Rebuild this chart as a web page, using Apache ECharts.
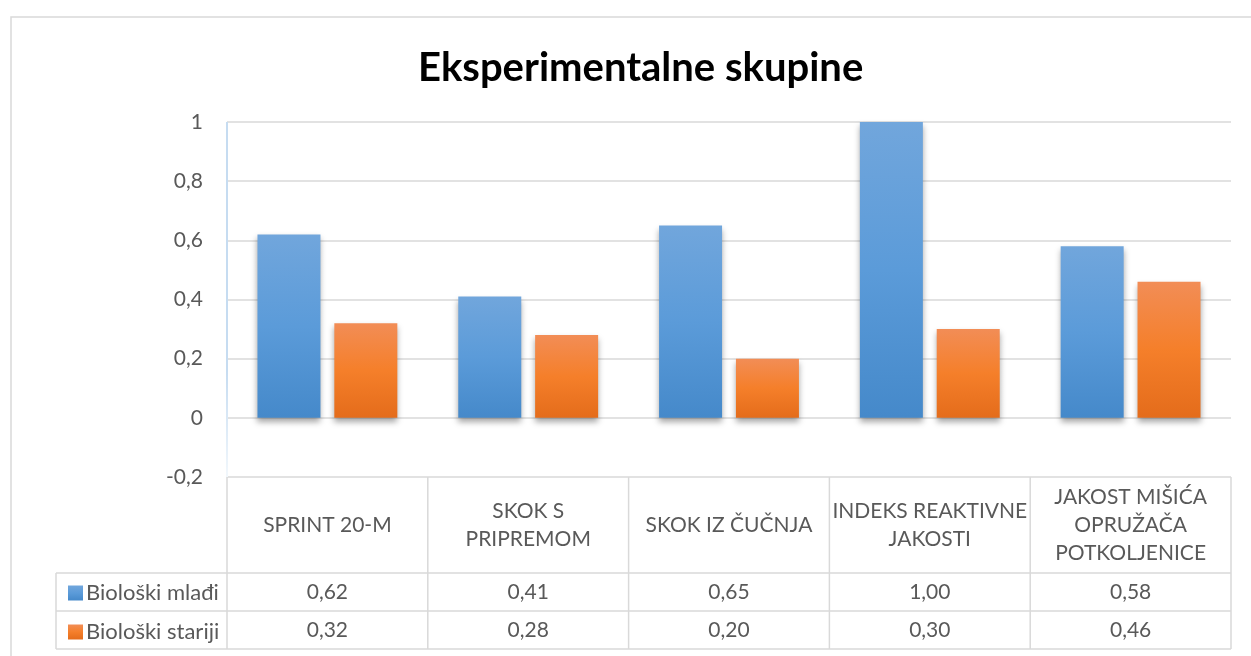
<!DOCTYPE html>
<html>
<head>
<meta charset="utf-8">
<script src="https://cdn.jsdelivr.net/npm/echarts@6/dist/echarts.min.js"></script>
<style>
html,body{margin:0;padding:0;background:#fff;}
#chart{width:1251px;height:656px;}
</style>
</head>
<body>
<div id="chart"></div>
<script>
// ---- data ----
const titleText = 'Eksperimentalne skupine';
const categories = ['SPRINT 20-M', 'SKOK S\nPRIPREMOM', 'SKOK IZ ČUČNJA', 'INDEKS REAKTIVNE\nJAKOSTI', 'JAKOST MIŠIĆA\nOPRUŽAČA\nPOTKOLJENICE'];
const seriesNames = ['Biološki mlađi', 'Biološki stariji'];
const youngValues = [0.62, 0.41, 0.65, 1.00, 0.58];
const olderValues = [0.32, 0.28, 0.20, 0.30, 0.46];
const yMin = -0.2, yMax = 1, yStep = 0.2;

// ---- layout ----
const FONT = 'Lato, "Noto Sans", sans-serif';
const TXT = '#595959';
const LINE = '#d9d9d9';
const L = 227, R = 1231, TOP = 122, TBL_TOP = 477;
const ROW1 = 573, ROW2 = 611, ROW3 = 649, LEG_L = 56;

const fmt = v => String(+(+v).toFixed(2)).replace('.', ',');
const fmt2 = v => v.toFixed(2).replace('.', ',');

const blueGrad = new echarts.graphic.LinearGradient(0, 0, 0, 1, [
  {offset: 0, color: '#71a6dc'}, {offset: 0.5, color: '#5b9bd9'}, {offset: 1, color: '#4589ca'}]);
const orangeGrad = new echarts.graphic.LinearGradient(0, 0, 0, 1, [
  {offset: 0, color: '#f28d56'}, {offset: 0.5, color: '#f57f2a'}, {offset: 1, color: '#e46c1b'}]);

const colW = (R - L) / categories.length;
const gl = [];
function hl(y, x1, x2) { gl.push({type: 'line', silent: true, shape: {x1: x1, y1: y, x2: x2, y2: y}, style: {stroke: LINE, lineWidth: 1.5}}); }
function vl(x, y1, y2) { gl.push({type: 'line', silent: true, shape: {x1: x, y1: y1, x2: x, y2: y2}, style: {stroke: LINE, lineWidth: 1.5}}); }
// outer frame
gl.push({type: 'rect', silent: true, shape: {x: 11, y: 17, width: 1260, height: 660}, style: {fill: null, stroke: LINE, lineWidth: 1.5}});
hl(ROW1, LEG_L, R); hl(ROW2, LEG_L, R); hl(ROW3, LEG_L, R);
vl(LEG_L, ROW1, ROW3);
for (let i = 0; i <= categories.length; i++) vl(L + colW * i, TBL_TOP, ROW3);
// light blue left axis edge
gl.push({type: 'line', silent: true, z: 10, shape: {x1: L, y1: TOP, x2: L, y2: TBL_TOP},
  style: {stroke: new echarts.graphic.LinearGradient(0, 0, 0, 1, [{offset: 0, color: '#c6dcf1'}, {offset: 0.7, color: '#c6dcf1'}, {offset: 1, color: '#f3f8fc'}]), lineWidth: 2}});

const labelBase = {color: TXT, fontFamily: FONT, fontSize: 21};

const option = {
  backgroundColor: '#fff',
  animation: false,
  title: {text: titleText, left: 413, top: 43,
    textStyle: {fontFamily: FONT, fontWeight: 'bold', fontSize: 40, color: '#000'}},
  grid: {left: L, right: 1251 - R, top: TOP, bottom: 656 - TBL_TOP, containLabel: false},
  legend: {
    data: seriesNames, orient: 'vertical', left: 63, top: 577, itemGap: 17,
    icon: 'rect', itemWidth: 15, itemHeight: 15,
    textStyle: Object.assign({}, labelBase, {fontSize: 22, padding: [0, 0, 0, -2], lineHeight: 21})
  },
  xAxis: [
    {type: 'category', data: categories, boundaryGap: true,
      axisLine: {show: false}, axisTick: {show: false}, splitLine: {show: false},
      axisLabel: Object.assign({}, labelBase, {interval: 0, margin: 48, verticalAlign: 'middle', lineHeight: 28})},
    {type: 'category', data: youngValues.map(fmt2), position: 'bottom', boundaryGap: true,
      axisLine: {show: false}, axisTick: {show: false},
      axisLabel: Object.assign({}, labelBase, {interval: 0, margin: 115, verticalAlign: 'middle'})},
    {type: 'category', data: olderValues.map(fmt2), position: 'bottom', boundaryGap: true,
      axisLine: {show: false}, axisTick: {show: false},
      axisLabel: Object.assign({}, labelBase, {interval: 0, margin: 153, verticalAlign: 'middle'})}
  ],
  yAxis: {
    type: 'value', min: yMin, max: yMax, interval: yStep,
    axisLine: {show: false}, axisTick: {show: false},
    splitLine: {lineStyle: {color: LINE, width: 1.5}},
    axisLabel: Object.assign({}, labelBase, {margin: 24, formatter: v => fmt(v)})
  },
  series: [
    {name: seriesNames[0], type: 'bar', data: youngValues, barWidth: 63, barGap: '22%',
      itemStyle: {color: blueGrad, shadowBlur: 6, shadowOffsetY: 4, shadowColor: 'rgba(0,0,0,0.35)'}},
    {name: seriesNames[1], type: 'bar', data: olderValues, barWidth: 63, barGap: '22%',
      itemStyle: {color: orangeGrad, shadowBlur: 6, shadowOffsetY: 4, shadowColor: 'rgba(0,0,0,0.35)'}}
  ],
  graphic: gl
};

const chart = echarts.init(document.getElementById('chart'), null, {renderer: 'canvas'});
chart.setOption(option);
</script>
</body>
</html>
